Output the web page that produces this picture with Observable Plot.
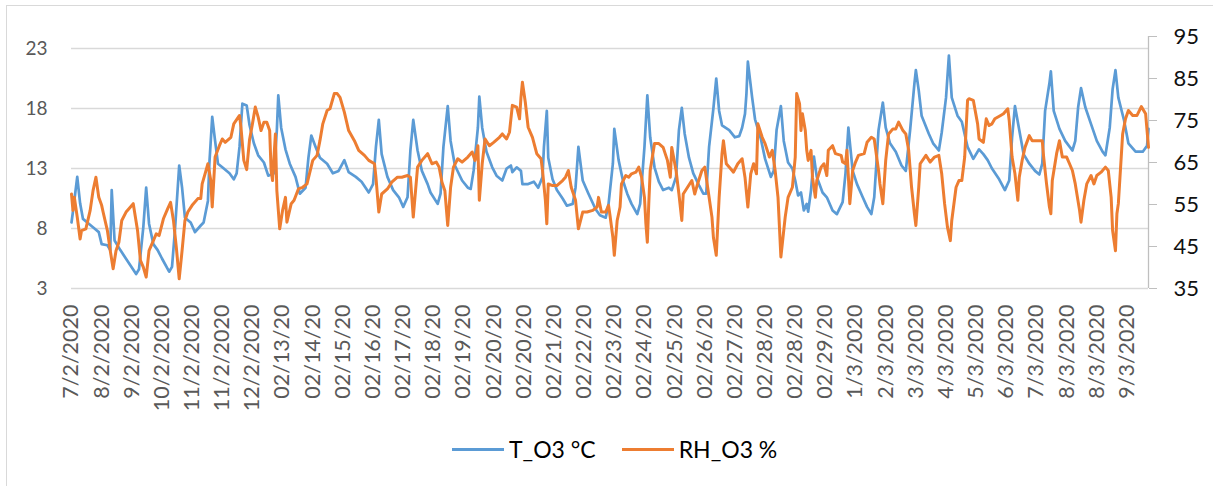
<!DOCTYPE html>
<html><head><meta charset="utf-8">
<script src="https://cdn.jsdelivr.net/npm/d3@7"></script>
<script src="https://cdn.jsdelivr.net/npm/@observablehq/plot@0.6"></script>
<style>
html,body{margin:0;padding:0;background:#fff;}
#wrap{position:relative;width:1213px;height:486px;overflow:hidden;font-family:Lato,sans-serif;}
#border{position:absolute;left:6px;top:5px;width:1300px;height:600px;border-left:1.5px solid #d9d9d9;border-top:1.5px solid #d9d9d9;}
#chart{position:absolute;left:0;top:0;}
#legend{position:absolute;left:452px;top:435px;height:28px;display:flex;align-items:center;font-size:23px;color:#000;white-space:nowrap;}
.sw{width:52px;height:3px;margin-right:5px;}
.item{display:flex;align-items:center;margin-right:26px;}
</style></head>
<body><div id="wrap"><div id="border"></div><div id="chart"></div><div id="legend"></div></div>
<script>
// Category labels (one every 21 readings)
const xLabels = ["7/2/2020","8/2/2020","9/2/2020","10/2/2020","11/2/2020","11/2/2020","12/2/2020","02/13/20","02/14/20","02/15/20","02/16/20","02/17/20","02/18/20","02/19/20","02/20/20","02/20/20","02/21/20","02/22/20","02/23/20","02/24/20","02/25/20","02/26/20","02/27/20","02/28/20","02/28/20","02/29/20","1/3/2020","2/3/2020","3/3/2020","4/3/2020","5/3/2020","6/3/2020","7/3/2020","8/3/2020","8/3/2020","9/3/2020"];
const labelStep = 21;
const tTicks = [3, 8, 13, 18, 23];
const rhTicks = [35, 45, 55, 65, 75, 85, 95];
const seriesNames = ["T_O3 °C", "RH_O3 %"];

// [reading index, value]
const tempSeries = [[0,8.5],[1,9.4],[4,12.3],[6,10.1],[8,8.8],[11,8.5],[16,8.0],[19,7.7],[21,6.7],[25,6.6],[27,6.2],[28,11.2],[30,7.0],[34,6.2],[39,5.3],[45,4.2],[47,4.6],[50,8.1],[52,11.4],[54,8.4],[57,6.7],[60,6.2],[63,5.5],[68,4.4],[70,4.8],[72,7.8],[75,13.25],[77,11.4],[79,8.9],[83,8.5],[86,7.7],[90,8.25],[92,8.5],[95,10.3],[96,13.4],[98,17.3],[100,15.3],[102,13.4],[105,13.1],[110,12.6],[113,12.1],[115,12.6],[117,14.8],[119,18.4],[122,18.25],[124,16.6],[127,15.1],[130,14.1],[134,13.5],[137,12.4],[141,12.6],[143,16.2],[144,19.1],[146,16.4],[149,14.6],[152,13.4],[156,12.3],[159,10.9],[163,11.4],[165,13.9],[167,15.75],[170,14.8],[173,13.9],[178,13.4],[182,12.6],[186,12.8],[190,13.7],[193,12.7],[198,12.3],[202,11.9],[207,11.0],[210,11.7],[212,14.8],[214,17.05],[216,14.2],[220,12.3],[224,11.2],[228,10.6],[231,9.8],[234,10.6],[236,14.5],[238,17.05],[241,14.5],[244,12.8],[248,11.7],[250,11.0],[255,10.05],[257,10.9],[259,14.8],[262,18.2],[264,15.3],[267,13.25],[272,12.0],[276,11.4],[278,11.3],[280,12.8],[283,16.4],[284,19.0],[286,16.4],[289,14.4],[293,13.1],[296,12.4],[300,12.0],[303,13.0],[306,13.25],[307,12.7],[310,13.1],[313,12.8],[314,11.7],[318,11.7],[322,11.9],[325,11.4],[328,12.3],[329,14.8],[331,17.8],[332,13.9],[335,12.1],[338,11.2],[342,10.5],[345,9.9],[349,10.05],[351,11.4],[353,14.8],[356,12.0],[360,10.9],[365,9.6],[368,9.1],[372,8.9],[374,10.05],[377,13.4],[378,16.3],[381,13.7],[384,12.0],[387,10.9],[390,10.05],[394,9.2],[396,10.05],[399,14.8],[401,19.1],[403,15.6],[406,13.1],[409,11.9],[412,11.2],[416,11.4],[418,11.2],[421,12.3],[423,16.2],[425,18.05],[427,15.9],[430,13.9],[433,12.6],[437,11.6],[440,10.9],[442,10.9],[444,14.8],[447,18.0],[449,20.5],[451,17.8],[453,16.6],[458,16.2],[462,15.6],[465,15.7],[467,16.4],[469,17.55],[470,19.2],[471,21.9],[474,18.9],[476,17.1],[480,15.5],[483,13.8],[487,12.3],[489,12.8],[491,16.2],[494,18.2],[496,15.3],[499,13.5],[502,13.0],[504,12.0],[506,10.75],[508,11.0],[510,9.5],[512,10.05],[513,9.4],[515,11.2],[517,14.0],[519,12.3],[523,11.0],[526,10.6],[530,9.5],[533,9.2],[537,10.2],[539,12.6],[541,16.4],[544,12.8],[547,11.7],[551,10.6],[554,9.8],[557,9.2],[559,10.6],[562,16.2],[565,18.5],[567,16.4],[570,15.1],[574,14.4],[578,13.25],[581,12.8],[584,16.2],[587,20.1],[588,21.2],[590,19.5],[592,17.4],[597,15.9],[600,15.1],[604,14.5],[606,16.0],[609,18.9],[611,22.4],[613,18.9],[617,17.4],[620,16.9],[624,14.8],[628,13.8],[632,14.6],[635,14.2],[638,13.7],[641,13.0],[646,12.1],[650,11.2],[653,12.0],[655,15.6],[657,18.2],[660,16.2],[663,14.2],[667,13.4],[671,12.8],[674,12.5],[676,13.4],[678,17.8],[681,20.1],[682,21.1],[684,17.8],[688,16.3],[692,15.3],[697,14.5],[699,15.3],[701,18.1],[703,19.7],[706,18.1],[710,16.7],[714,15.3],[718,14.4],[720,14.1],[723,16.4],[725,19.6],[727,21.2],[729,18.9],[733,17.0],[736,15.1],[741,14.4],[746,14.4],[749,14.9],[750,16.3]];

const rhSeries = [[0,57.5],[1,53.6],[2,56.7],[4,52],[6,46.8],[7,48.8],[10,49.2],[13,53.6],[15,58.3],[17,61.5],[19,56.7],[21,54.8],[22,53.2],[25,48.8],[27,44],[29,39.7],[31,44],[33,46],[35,51.2],[38,53.2],[40,54],[43,55.2],[46,48.8],[48,41.7],[50,40.1],[52,37.7],[54,44],[57,46.4],[59,48],[61,47.6],[64,51.6],[67,54],[69,55.5],[71,51.2],[73,44.8],[75,37.3],[77,44],[79,51.2],[81,53.2],[84,54.8],[88,56.4],[90,56.4],[91,59.9],[93,62.3],[95,64.7],[97,60.7],[98,54.4],[100,66.3],[103,69],[105,70.6],[107,69.8],[111,71],[113,74.2],[117,76.2],[118,73.4],[120,65.5],[122,63.3],[124,70.5],[126,74.2],[128,78.2],[130,75.8],[132,72.6],[134,74.6],[136,74.6],[138,72.6],[139,63.1],[140,60.7],[142,71.8],[143,58.3],[145,49.2],[147,53.6],[149,56.7],[150,50.8],[153,55.2],[155,56],[158,58.7],[161,59.1],[164,59.9],[168,65.5],[171,66.7],[173,70.2],[175,74.2],[178,77.4],[180,77.8],[183,81.4],[185,81.4],[187,80.5],[190,77],[193,72.6],[197,70.2],[200,67.9],[204,66.7],[207,65.5],[211,64.7],[212,61.5],[214,53.2],[216,57.5],[220,58.7],[223,60.3],[227,61.5],[230,61.5],[234,61.9],[236,61.5],[238,52],[241,63.9],[244,65.5],[248,67.1],[251,64.7],[254,65.1],[256,63.9],[258,60.3],[260,58.3],[262,50],[264,59.1],[266,63.9],[269,65.9],[272,65.1],[276,66.3],[279,67.5],[281,65.5],[283,69],[284,56],[286,64.7],[288,70.6],[291,69],[294,69.8],[298,71],[300,71.8],[303,70.6],[305,72.2],[307,78.6],[310,78.2],[312,75.4],[313,80.5],[314,84.1],[316,79.4],[318,73.4],[321,71],[324,67.1],[327,65.9],[328,63.1],[330,56],[331,50.4],[332,59.9],[335,59.5],[338,59.5],[342,60.7],[344,61.5],[346,63.1],[348,59.1],[351,56],[353,49.2],[356,53.2],[359,53.2],[363,53.6],[366,54.4],[367,56.7],[369,53.2],[372,53.2],[374,54.8],[375,52.4],[377,47.2],[378,42.9],[380,51.2],[382,54.4],[383,59.9],[386,61.9],[388,61.5],[390,62.3],[393,62.7],[395,63.9],[397,61.5],[399,56.7],[400,50.4],[401,46],[402,55.2],[403,63.1],[406,69.5],[409,69.5],[412,68.6],[415,65.5],[417,61.5],[418,68.6],[421,63.1],[423,57.5],[425,51.2],[426,57.5],[429,59.1],[432,60.7],[434,57.5],[436,59.9],[439,63.1],[441,63.9],[443,59.1],[446,52],[447,47.2],[449,42.9],[451,56.7],[453,67.1],[454,70.2],[456,64.7],[459,63.5],[461,62.7],[464,64.7],[467,65.9],[469,61.5],[471,54.4],[473,62.3],[475,64.7],[477,62.3],[478,74.2],[481,71],[483,69.5],[486,66.3],[488,67.9],[490,63.1],[492,56.7],[494,42.5],[497,52],[499,56.7],[502,59.1],[504,66.3],[505,81.4],[507,79],[508,72.6],[509,76.6],[511,72.6],[512,67.9],[513,65.5],[515,67.9],[516,61.5],[518,56.7],[519,60.7],[522,63.9],[524,64.7],[526,61.9],[527,67.9],[530,69],[532,67.1],[536,66.7],[537,65.1],[539,64.7],[540,67.9],[542,55.2],[544,63.1],[546,65.1],[548,66.7],[552,67.1],[554,69.8],[557,71],[559,70.6],[562,63.1],[563,59.9],[565,55.2],[567,65.5],[569,71.8],[572,73],[574,73],[576,74.6],[579,72.6],[581,71.8],[583,67.9],[585,59.1],[587,52.8],[588,50],[590,59.1],[591,64.7],[595,66.7],[598,65.1],[601,66.3],[604,66.7],[606,62.3],[608,55.2],[610,49.6],[612,46.4],[613,51.2],[616,59.1],[618,60.7],[620,60.7],[622,66.3],[624,79.8],[625,80.2],[628,79.8],[631,74.2],[632,70.6],[635,69.8],[637,75.4],[639,73.8],[641,74.2],[643,75.4],[647,76.2],[649,76.6],[652,77.8],[653,75],[655,66.3],[657,62.3],[659,56],[660,61.5],[662,65.5],[664,68.6],[667,71.4],[669,70.2],[673,70.2],[676,70.2],[677,66.3],[679,59.9],[681,54.4],[682,52.8],[683,60.7],[686,67.1],[688,70.2],[690,66.3],[693,66.3],[695,64.7],[697,63.1],[699,59.9],[702,53.6],[703,50.8],[705,56],[707,59.9],[710,61.9],[712,59.9],[714,61.9],[717,62.7],[720,63.9],[722,63.1],[724,56.7],[725,48.8],[727,44],[728,52.8],[729,55.2],[731,66.3],[732,71.8],[734,75.4],[736,77.4],[739,76.2],[742,76.2],[745,78.3],[748,76.6],[750,68.6]];

const colors = ["#5b9bd5", "#ed7d31"];

// secondary axis mapping: RH 35..95 onto T 3..24
const toT = rh => 3 + (rh - 35) * 21 / 60;
const fromT = t => Math.round(35 + (t - 3) * 60 / 21);

const tData = tempSeries.map(([h, v]) => ({h, v}));
const rhData = rhSeries.map(([h, v]) => ({h, v: toT(v)}));
const xTicks = xLabels.map((_, i) => i * labelStep);
const xMax = 750;

const chart = Plot.plot({
  width: 1213, height: 486,
  marginLeft: 71, marginRight: 65, marginTop: 36, marginBottom: 198,
  style: {fontFamily: "Lato, sans-serif", background: "transparent", overflow: "visible"},
  x: {domain: [0, xMax]},
  y: {domain: [3, 24]},
  marks: [
    Plot.gridY(tTicks, {stroke: "#d9d9d9", strokeOpacity: 1, strokeWidth: 1.3}),
    Plot.axisY(tTicks, {anchor: "left", tickSize: 0, tickPadding: 24, fontSize: 19, color: "#595959", label: null}),
    Plot.axisY(rhTicks.map(toT), {anchor: "right", tickSize: 8, tickPadding: 17, fontSize: 22, color: "#111", stroke: "#bfbfbf", tickFormat: d => String(fromT(d)), label: null}),
    Plot.ruleX([xMax], {y1: 3, y2: 24, stroke: "#bfbfbf", strokeWidth: 1.3}),
    Plot.axisX(xTicks, {anchor: "bottom", tickSize: 0, tickPadding: 16, tickRotate: -90, fontSize: 21.5, color: "#595959", tickFormat: d => xLabels[Math.round(d / labelStep)], label: null}),
    Plot.line(tData, {x: "h", y: "v", stroke: colors[0], strokeWidth: 2.7}),
    Plot.line(rhData, {x: "h", y: "v", stroke: colors[1], strokeWidth: 3})
  ]
});
document.getElementById("chart").appendChild(chart);

const legend = document.getElementById("legend");
seriesNames.forEach((name, i) => {
  const item = document.createElement("div");
  item.className = "item";
  const sw = document.createElement("div");
  sw.className = "sw";
  sw.style.background = colors[i];
  const tx = document.createElement("span");
  tx.textContent = name;
  item.appendChild(sw); item.appendChild(tx);
  legend.appendChild(item);
});
</script></body></html>
